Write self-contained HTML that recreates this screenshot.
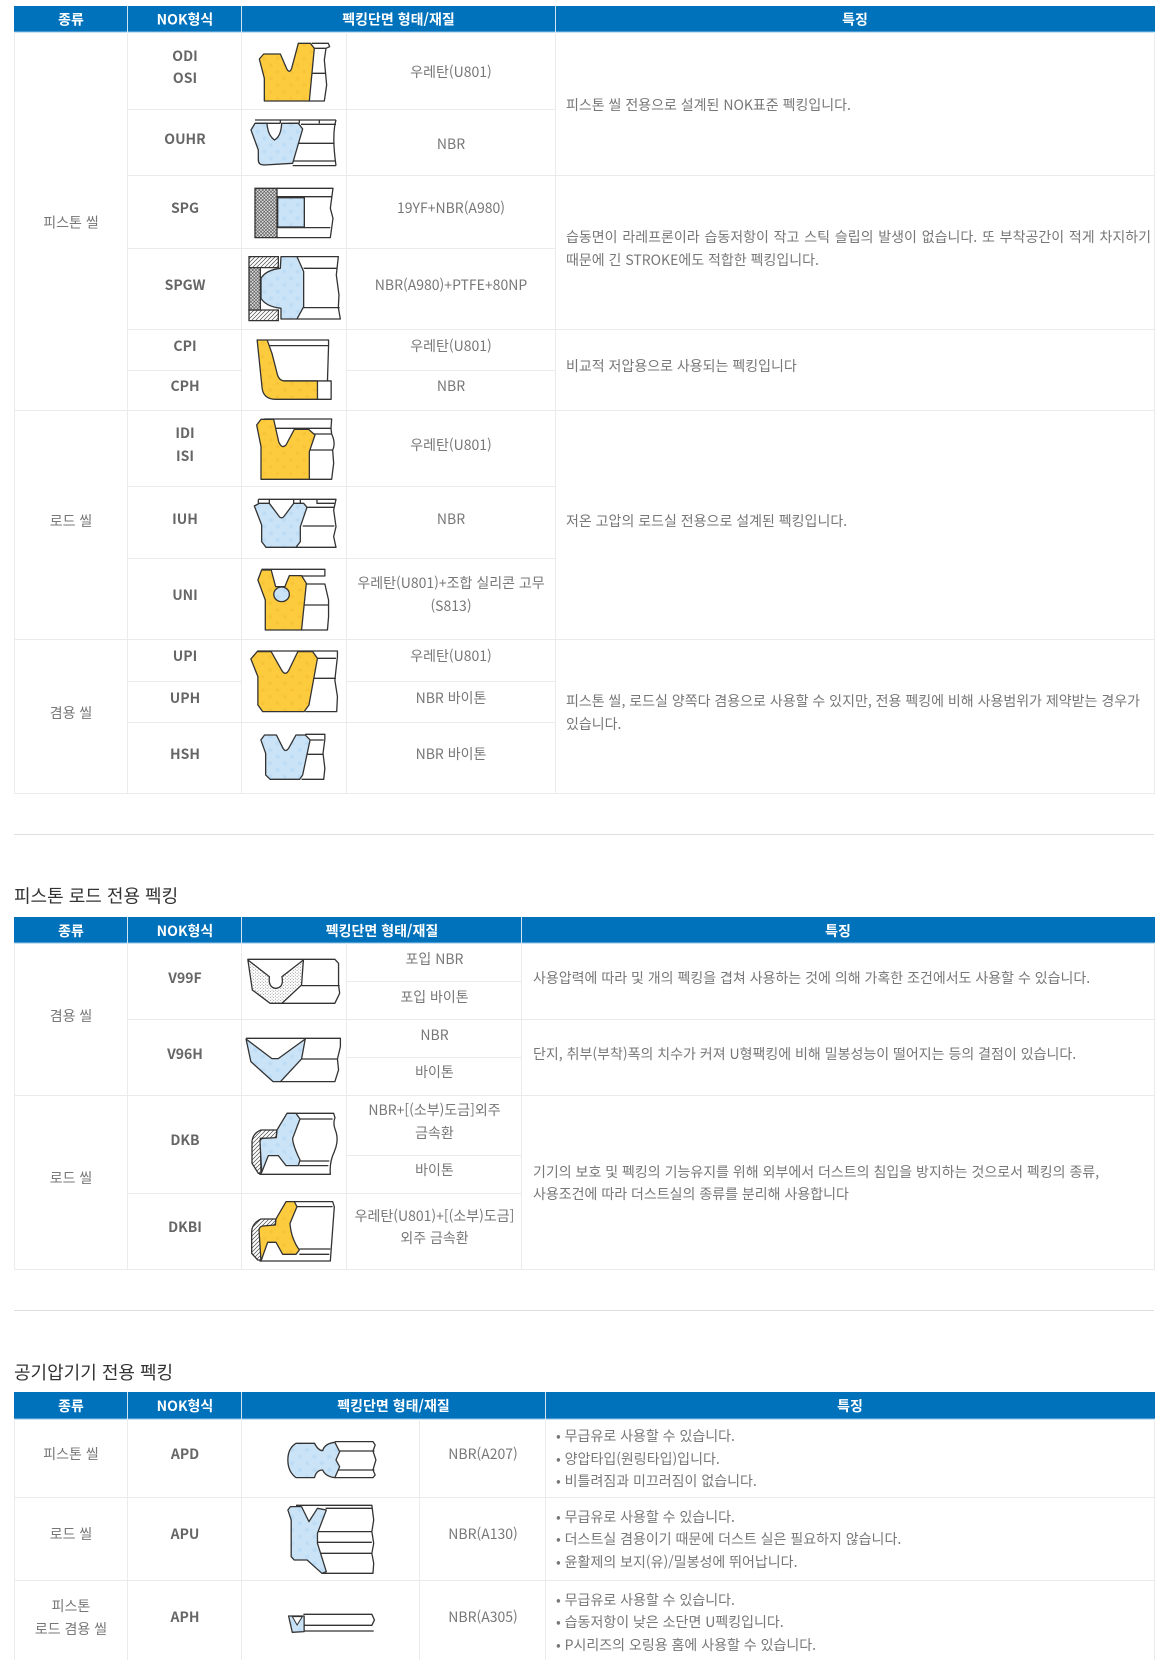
<!DOCTYPE html>
<html lang="ko"><head><meta charset="utf-8"><title>NOK 패킹</title>
<style>
html,body{margin:0;padding:0;background:#fff;width:1156px;height:1660px;overflow:hidden}
svg{display:block}
text{font-family:"Noto Sans CJK KR","Liberation Sans",sans-serif;font-size:14px}
.t{fill:#777;text-anchor:middle}
.l{fill:#777}
.m{fill:#666;font-weight:700;text-anchor:middle}
.h{fill:#fff;font-weight:700;text-anchor:middle}
.c{fill:#333;font-size:18px}
.g{stroke:#ebebeb;stroke-width:1;fill:none}
.k{fill:none;stroke:#333;stroke-width:1.3;vector-effect:non-scaling-stroke;stroke-linejoin:round}
.y{fill:url(#yd);stroke:#333;stroke-width:1.3;vector-effect:non-scaling-stroke;stroke-linejoin:round}
.b{fill:url(#bd);stroke:#333;stroke-width:1.3;vector-effect:non-scaling-stroke;stroke-linejoin:round}
.x{fill:url(#cross);stroke:#333;stroke-width:1.3;vector-effect:non-scaling-stroke}
.d{fill:url(#hatch);stroke:#333;stroke-width:1.3;vector-effect:non-scaling-stroke}
.s{fill:url(#stip);stroke:#333;stroke-width:1.3;vector-effect:non-scaling-stroke}
</style></head><body>
<svg width="1156" height="1660" viewBox="0 0 1156 1660" xmlns="http://www.w3.org/2000/svg">
<defs>
<pattern id="cross" width="10" height="10" patternUnits="userSpaceOnUse"><rect width="10" height="10" fill="#e4e4e4"/><path d="M0 0L10 10M10 0L0 10" stroke="#333" stroke-width="1.6"/></pattern>
<pattern id="hatch" width="12" height="12" patternUnits="userSpaceOnUse"><rect width="12" height="12" fill="#fff"/><path d="M-2 14L14 -2M-2 2L2 -2M10 14L14 10" stroke="#444" stroke-width="2"/></pattern>
<pattern id="stip" width="9" height="9" patternUnits="userSpaceOnUse"><rect width="9" height="9" fill="#fff"/><circle cx="2" cy="2" r="1.1" fill="#333"/><circle cx="6.5" cy="6.5" r="1.1" fill="#333"/></pattern>
<pattern id="yd" width="40" height="40" patternUnits="userSpaceOnUse"><rect width="40" height="40" fill="#fdcb3e"/><circle cx="10" cy="10" r="5" fill="#f9c338"/><circle cx="30" cy="30" r="5" fill="#f9c338"/></pattern>
<pattern id="bd" width="40" height="40" patternUnits="userSpaceOnUse"><rect width="40" height="40" fill="#cae3f7"/><circle cx="10" cy="10" r="6" fill="#bddcf5"/><circle cx="30" cy="30" r="6" fill="#bddcf5"/></pattern>
</defs>

<!-- TABLE 1 -->
<rect x="14" y="6" width="1141" height="26" fill="#0072bc"/>
<path d="M14 32H1155" stroke="#8fc3e6" fill="none"/>
<path d="M127.500 6V32M241.500 6V32M555.500 6V32" stroke="#cfe3f2" fill="none"/>
<text class="h" x="71" y="24.500">종류</text><text class="h" x="185" y="24.500">NOK형식</text><text class="h" x="398.500" y="24.500">펙킹단면 형태/재질</text><text class="h" x="855" y="24.500">특징</text>
<path class="g" d="M14.500 32V793.500H1154.500V32M127.500 32V793.500M241.500 32V793.500M346.500 32V793.500M555.500 32V793.500"/>
<path class="g" d="M127 109.500H555M127 175.500H1154M127 248.500H555M127 329.500H1154M127 370.500H241M347 370.500H555M14 410.500H1154M127 486.500H555M127 558.500H555M14 639.500H1154M127 681.500H241M347 681.500H555M127 722.500H555"/>
<text class="t" x="71" y="227.500">피스톤 씰</text><text class="t" x="71" y="526">로드 씰</text><text class="t" x="71" y="718">겸용 씰</text>
<text class="m" x="185" y="61">ODI</text><text class="m" x="185" y="83">OSI</text><text class="m" x="185" y="144">OUHR</text><text class="m" x="185" y="213">SPG</text><text class="m" x="185" y="290">SPGW</text><text class="m" x="185" y="351">CPI</text><text class="m" x="185" y="391">CPH</text><text class="m" x="185" y="438">IDI</text><text class="m" x="185" y="461">ISI</text><text class="m" x="185" y="524">IUH</text><text class="m" x="185" y="600">UNI</text><text class="m" x="185" y="661">UPI</text><text class="m" x="185" y="703">UPH</text><text class="m" x="185" y="759">HSH</text>
<text class="t" x="451" y="77">우레탄(U801)</text><text class="t" x="451" y="149">NBR</text><text class="t" x="451" y="213">19YF+NBR(A980)</text><text class="t" x="451" y="290">NBR(A980)+PTFE+80NP</text><text class="t" x="451" y="351">우레탄(U801)</text><text class="t" x="451" y="391">NBR</text><text class="t" x="451" y="450">우레탄(U801)</text><text class="t" x="451" y="524">NBR</text><text class="t" x="451" y="588">우레탄(U801)+조합 실리콘 고무</text><text class="t" x="451" y="611">(S813)</text><text class="t" x="451" y="661">우레탄(U801)</text><text class="t" x="451" y="703">NBR 바이톤</text><text class="t" x="451" y="759">NBR 바이톤</text>
<text class="l" x="566" y="110">피스톤 씰 전용으로 설계된 NOK표준 펙킹입니다.</text>
<text class="l" x="566" y="242" style="word-spacing:.9px">습동면이 라레프론이라 습동저항이 작고 스틱 슬립의 발생이 없습니다. 또 부착공간이 적게 차지하기</text>
<text class="l" x="566" y="265">때문에 긴 STROKE에도 적합한 펙킹입니다.</text>
<text class="l" x="566" y="371">비교적 저압용으로 사용되는 펙킹입니다</text>
<text class="l" x="566" y="526">저온 고압의 로드실 전용으로 설계된 펙킹입니다.</text>
<text class="l" x="566" y="706">피스톤 씰, 로드실 양쪽다 겸용으로 사용할 수 있지만, 전용 펙킹에 비해 사용범위가 제약받는 경우가</text>
<text class="l" x="566" y="729">있습니다.</text>

<!-- icons: ODI, OUHR -->
<g transform="translate(241,35) scale(.3333)">
<path class="k" d="M212 25H262L266 35L255 40L250 75L257 150L250 198H205M218 40H255M212 115H255"/>
<path class="y" d="M55 72L68 57H118L138 103Q146 116 152 100L172 25H208L220 40L205 198H70V130Z"/>
<path class="k" d="M42 255H285M42 265H118M140 265H175M118 255V265M175 255V265M235 255V265M180 268H285M285 255Q272 300 285 392M165 325H280M155 378H285M155 392H285"/>
<path class="b" d="M30 285L42 265H78Q80 300 100 315Q120 305 122 265H172L185 282L155 385L70 390Q52 390 52 375V345Z"/>
</g>
<!-- SPG, SPGW -->
<g transform="translate(241,175) scale(.3333)">
<path class="k" d="M108 40H276L268 100L276 130L268 188H108M108 65H272M190 68V155M108 158H268"/>
<rect class="b" x="110" y="68" width="80" height="88"/>
<rect class="x" x="42" y="40" width="66" height="148"/>
<path class="k" d="M168 245H292L286 300L294 360L292 398L298 432H168M188 280H288M185 398H296"/>
<rect class="d" x="24" y="245" width="88" height="33"/><rect class="d" x="24" y="405" width="88" height="32"/>
<rect class="x" x="24" y="278" width="34" height="127"/>
<path class="b" d="M60 310Q75 285 118 280L120 245H168L188 290V395L168 432H120L120 400Q75 395 60 370Z"/>
</g>
<g transform="translate(0,0) scale(.37,.3333)">
<path class="k" d="M722 1020H888V1037L885 1143M725 1037H888M765 1143H885M858 1143H895V1198H858"/>
<path class="y" d="M695 1020H722L735 1060L750 1125Q755 1143 770 1143H858V1198H745Q710 1198 708 1160Z"/>
</g>
<!-- IDI, IUH -->
<g transform="translate(241,410) scale(.3333)">
<path class="k" d="M70 27H272L270 55L272 72Q285 100 275 120L278 160L272 208H205M100 55H270M215 72H272M205 120H275"/>
<path class="y" d="M47 45L60 28H98L113 95Q122 118 135 105L160 58H203L222 75L205 125V208H60V110Z"/>
<path class="k" d="M52 268H285L278 300L285 350L278 380L285 412H165M52 268V280M85 268V280M158 268V280M178 268V280M178 292H280M228 268V280H280M185 348H280"/>
<path class="b" d="M40 288L55 280H85L115 320Q122 328 130 318L158 280H188L198 292L178 350V395L165 412H75L62 395V345Z"/>
</g>
<g transform="translate(0,400) scale(.37,.3333)">
<path class="k" d="M707 508H878V528H800M815 552H878L888 600V650L885 690H815M818 615H888"/>
<path class="y" d="M697 540L707 510H733L745 560L770 560L782 527H815L828 550L815 690H717V600Z"/>
<ellipse class="b" cx="761" cy="583" rx="21" ry="22"/>
<path class="k" d="M695 753H912V770L905 840L912 890L910 935H825M850 775H908M838 835H908"/>
<path class="y" d="M678 777L695 755H733L762 812Q771 828 780 812L805 755H845L858 775L835 915L822 935H710L697 915V830Z"/>
<path class="k" d="M825 1003H878V1018L873 1060L878 1105L875 1138H815M835 1020H875M820 1063H875"/>
<path class="b" d="M705 1020L715 1005H747L765 1045Q772 1058 780 1045L800 1005H825L838 1020L818 1125L810 1138H730L718 1125V1060Z"/>
</g>

<!-- DIVIDER 1 -->
<path d="M14 834.500H1154" stroke="#dedede" fill="none"/>
<text class="c" x="14" y="902.500">피스톤 로드 전용 펙킹</text>

<!-- TABLE 2 -->
<rect x="14" y="917" width="1141" height="26" fill="#0072bc"/>
<path d="M14 943H1155" stroke="#8fc3e6" fill="none"/>
<path d="M127.500 917V943M241.500 917V943M521.500 917V943" stroke="#cfe3f2" fill="none"/>
<text class="h" x="71" y="936">종류</text><text class="h" x="185" y="936">NOK형식</text><text class="h" x="382" y="936">펙킹단면 형태/재질</text><text class="h" x="838" y="936">특징</text>
<path class="g" d="M14.500 943V1269.500H1154.500V943M127.500 943V1269.500M241.500 943V1269.500M346.500 943V1269.500M521.500 943V1269.500"/>
<path class="g" d="M347 981.500H521M127 1019.500H1154M347 1057.500H521M14 1095.500H1154M347 1155.500H521M127 1193.500H521"/>
<text class="t" x="71" y="1021">겸용 씰</text><text class="t" x="71" y="1183">로드 씰</text>
<text class="m" x="185" y="983">V99F</text><text class="m" x="185" y="1059">V96H</text><text class="m" x="185" y="1145">DKB</text><text class="m" x="185" y="1232">DKBI</text>
<text class="t" x="434.500" y="964">포입 NBR</text><text class="t" x="434.500" y="1002">포입 바이톤</text><text class="t" x="434.500" y="1040">NBR</text><text class="t" x="434.500" y="1077">바이톤</text><text class="t" x="434.500" y="1115">NBR+[(소부)도금]외주</text><text class="t" x="434.500" y="1138">금속환</text><text class="t" x="434.500" y="1175">바이톤</text><text class="t" x="434.500" y="1221">우레탄(U801)+[(소부)도금]</text><text class="t" x="434.500" y="1243">외주 금속환</text>
<text class="l" x="533" y="983">사용압력에 따라 및 개의 펙킹을 겹쳐 사용하는 것에 의해 가혹한 조건에서도 사용할 수 있습니다.</text>
<text class="l" x="533" y="1059">단지, 취부(부착)폭의 치수가 커져 U형팩킹에 비해 밀봉성능이 떨어지는 등의 결점이 있습니다.</text>
<text class="l" x="533" y="1177">기기의 보호 및 펙킹의 기능유지를 위해 외부에서 더스트의 침입을 방지하는 것으로서 펙킹의 종류,</text>
<text class="l" x="533" y="1199">사용조건에 따라 더스트실의 종류를 분리해 사용합니다</text>
<g transform="translate(0,820) scale(.37,.3333)">
<path class="k" d="M670 418H905L915 430V495L918 520L905 550H735M815 497H918"/>
<path class="s" d="M670 420L728 470Q725 503 745 505Q768 503 762 470L820 420L815 495L762 550H730L682 510Z"/>
<path class="k" d="M665 655H920V680L912 717L915 750L905 785H758M815 717H912"/>
<path class="b" d="M665 657L735 716H752L825 657L815 717L758 785H738L678 725Z"/>
</g>
<!-- DKB, DKBI -->
<g transform="translate(241,1095) scale(.3333)">
<path class="k" d="M138 55H278L282 68Q275 85 283 105Q295 135 280 170Q265 200 268 238H55M175 72H275M175 198H265M175 212H262"/>
<path class="d" d="M108 105H60Q35 115 33 140V205L52 235H60L58 130H105Z"/>
<path class="b" d="M138 55H165L177 72L155 130Q155 150 177 195L172 212H135L112 182H82L62 232L57 140Q58 130 68 130L106 128L108 105Z"/>
<path class="k" d="M160 320H275L280 335Q275 400 268 498H55M165 335H275M175 462H268M175 478H265"/>
<path class="d" d="M105 372H60Q33 385 32 410V475L50 495H60L57 400H85L105 385Z"/>
<path class="y" d="M135 320H160L168 335L147 385Q150 430 175 465L165 478H125L105 442H80L60 498L54 405Q55 395 65 393L103 390L105 372Z"/>
</g>

<!-- DIVIDER 2 -->
<path d="M14 1310.500H1154" stroke="#dedede" fill="none"/>
<text class="c" x="14" y="1379">공기압기기 전용 펙킹</text>

<!-- TABLE 3 -->
<rect x="14" y="1392" width="1141" height="27" fill="#0072bc"/>
<path d="M14 1419H1155" stroke="#8fc3e6" fill="none"/>
<path d="M127.500 1392V1419M241.500 1392V1419M545.500 1392V1419" stroke="#cfe3f2" fill="none"/>
<text class="h" x="71" y="1411">종류</text><text class="h" x="185" y="1411">NOK형식</text><text class="h" x="393.500" y="1411">펙킹단면 형태/재질</text><text class="h" x="850" y="1411">특징</text>
<path class="g" d="M14.500 1419V1660M1154.500 1419V1660M127.500 1419V1660M241.500 1419V1660M419.500 1419V1660M545.500 1419V1660"/>
<path class="g" d="M14 1497.500H1154M14 1580.500H1154"/>
<text class="t" x="71" y="1459">피스톤 씰</text><text class="t" x="71" y="1539">로드 씰</text><text class="t" x="71" y="1611">피스톤</text><text class="t" x="71" y="1634">로드 겸용 씰</text>
<text class="m" x="185" y="1459">APD</text><text class="m" x="185" y="1539">APU</text><text class="m" x="185" y="1622">APH</text>
<text class="t" x="483" y="1459">NBR(A207)</text><text class="t" x="483" y="1539">NBR(A130)</text><text class="t" x="483" y="1622">NBR(A305)</text>
<text class="l" x="556" y="1441">• 무급유로 사용할 수 있습니다.</text>
<text class="l" x="556" y="1464">• 양압타입(원링타입)입니다.</text>
<text class="l" x="556" y="1486">• 비틀려짐과 미끄러짐이 없습니다.</text>
<text class="l" x="556" y="1522">• 무급유로 사용할 수 있습니다.</text>
<text class="l" x="556" y="1544">• 더스트실 겸용이기 때문에 더스트 실은 필요하지 않습니다.</text>
<text class="l" x="556" y="1567">• 윤활제의 보지(유)/밀봉성에 뛰어납니다.</text>
<text class="l" x="556" y="1605">• 무급유로 사용할 수 있습니다.</text>
<text class="l" x="556" y="1627">• 습동저항이 낮은 소단면 U펙킹입니다.</text>
<text class="l" x="556" y="1650">• P시리즈의 오링용 홈에 사용할 수 있습니다.</text>
<g transform="translate(0,1280) scale(.37,.3333)">
<path class="k" d="M905 485H1008L1014 495L1008 513L1016 540L1008 570L1014 585L1008 593H905M915 513H1012M915 570H1012M800 498H850M800 585H850"/>
<path class="b" d="M800 490H850Q860 512 872 512Q878 490 905 487L918 515L908 540L918 560L905 593Q880 590 872 570Q855 570 850 593H800Q778 575 778 540Q778 505 800 490Z"/>
<path class="k" d="M800 676H1005L1010 720L1005 755L1010 790L1005 820L1010 850L1008 880H870M880 685H1005M858 755H1005M858 787H1005M865 820H1005"/>
<path class="b" d="M778 690L785 680H815L835 725L858 685L882 690L858 760V790L882 875L870 880L830 840H795L787 830V720Z"/>
<path class="k" d="M820 1003H1005L1012 1020L1005 1036H820M820 1053H1010"/>
<path class="b" d="M780 1008H822V1055L790 1057Z"/>
<path d="M790 1010L803 1035L817 1010Z" fill="#fff" stroke="#333" stroke-width="1" vector-effect="non-scaling-stroke"/>
</g>
</svg>
</body></html>
